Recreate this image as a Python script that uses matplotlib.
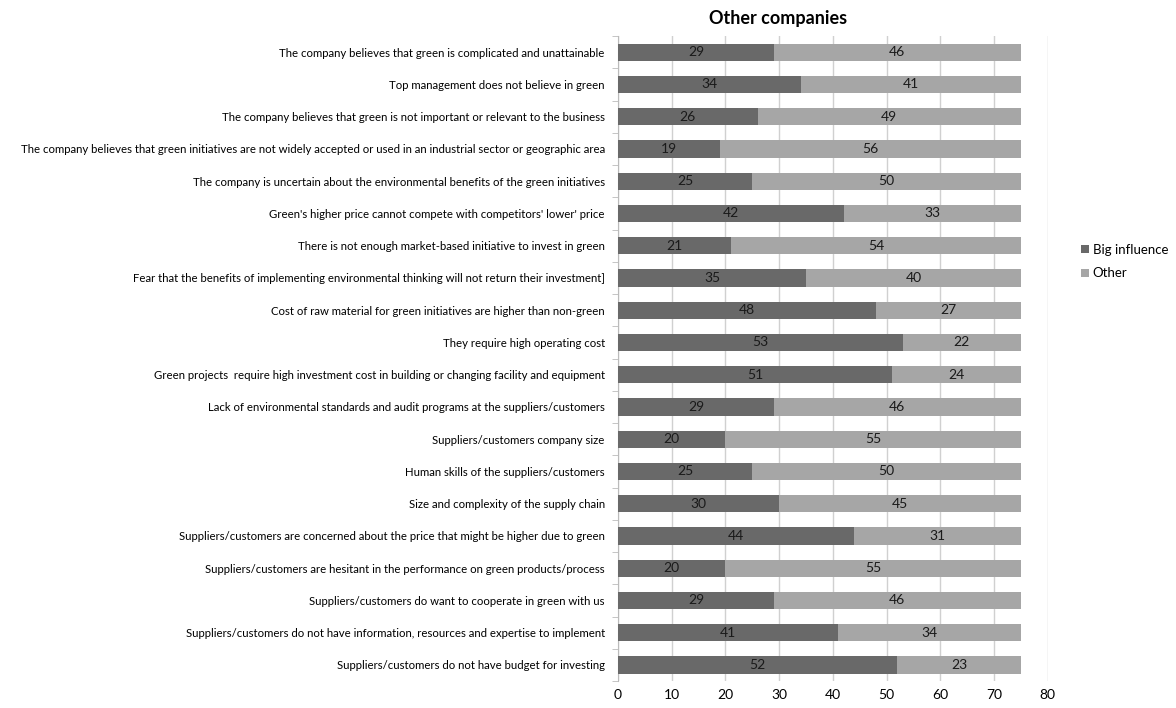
import matplotlib.pyplot as plt
import numpy as np

plt.rcParams['font.family'] = ['Lato', 'DejaVu Sans']

# Survey data (top to bottom as shown in the chart)
labels = [
    "The company believes that green is complicated and unattainable",
    "Top management does not believe in green",
    "The company believes that green is not important or relevant to the business",
    "The company believes that green initiatives are not widely accepted or used in an industrial sector or geographic area",
    "The company is uncertain about the environmental benefits of the green initiatives",
    "Green's higher price cannot compete with competitors' lower' price",
    "There is not enough market-based initiative to invest in green",
    "Fear that the benefits of implementing environmental thinking will not return their investment]",
    "Cost of raw material for green initiatives are higher than non-green",
    "They require high operating cost",
    "Green projects  require high investment cost in building or changing facility and equipment",
    "Lack of environmental standards and audit programs at the suppliers/customers",
    "Suppliers/customers company size",
    "Human skills of the suppliers/customers",
    "Size and complexity of the supply chain",
    "Suppliers/customers are concerned about the price that might be higher due to green",
    "Suppliers/customers are hesitant in the performance on green products/process",
    "Suppliers/customers do want to cooperate in green with us",
    "Suppliers/customers do not have information, resources and expertise to implement",
    "Suppliers/customers do not have budget for investing",
]
big_influence = [29, 34, 26, 19, 25, 42, 21, 35, 48, 53, 51, 29, 20, 25, 30, 44, 20, 29, 41, 52]
other = [46, 41, 49, 56, 50, 33, 54, 40, 27, 22, 24, 46, 55, 50, 45, 31, 55, 46, 34, 23]

dark = '#696969'
light = '#a6a6a6'

fig = plt.figure(figsize=(11.76, 7.08), dpi=100)
ax = fig.add_axes([0.5255, 0.038, 0.3655, 0.911])

y = np.arange(len(labels))[::-1]
ax.barh(y, big_influence, height=0.53, color=dark, label='Big influence', zorder=3)
ax.barh(y, other, left=big_influence, height=0.53, color=light, label='Other', zorder=3)

for i in range(len(labels)):
    ax.text(big_influence[i] / 2, y[i], str(big_influence[i]), ha='center', va='center',
            fontsize=10, color='#1a1a1a', zorder=4)
    ax.text(big_influence[i] + other[i] / 2, y[i], str(other[i]), ha='center', va='center',
            fontsize=10, color='#1a1a1a', zorder=4)

ax.set_xlim(0, 80)
ax.set_ylim(-0.5, len(labels) - 0.5)
ax.set_xticks(range(0, 81, 10))
ax.set_yticks(y)
ax.set_yticklabels(labels, fontsize=8.2)
ax.set_yticks(np.arange(-0.5, len(labels), 1), minor=True)
ax.tick_params(axis='y', which='major', length=0, pad=9.5)
ax.tick_params(axis='y', which='minor', length=4, color='#bbbbbb')
ax.tick_params(axis='x', length=0, labelsize=10, pad=6)
ax.grid(axis='x', color='#d0d0d0', linewidth=1, zorder=0)

for s in ['top', 'right', 'bottom']:
    ax.spines[s].set_visible(False)
ax.spines['left'].set_color('#bbbbbb')

fig.text(0.662, 0.974, 'Other companies', fontsize=13, fontweight='bold',
         ha='center', va='center')

ax.legend(loc='upper left', bbox_to_anchor=(0.919, 0.656), bbox_transform=fig.transFigure,
          frameon=False, borderpad=0, borderaxespad=0,
          fontsize=9.5, handlelength=0.6, handleheight=0.6, handletextpad=0.3,
          labelspacing=0.9)

fig.savefig('out.png', dpi=100)
